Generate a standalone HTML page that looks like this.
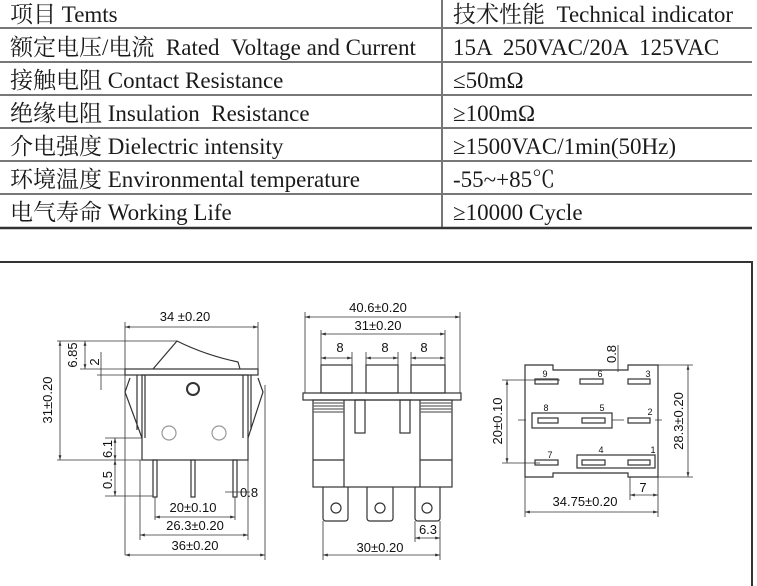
<!DOCTYPE html>
<html><head><meta charset="utf-8"><style>
html,body{margin:0;padding:0;background:#fff;}
body{width:757px;height:586px;overflow:hidden;position:relative;}
svg{position:absolute;left:0;top:0;}
.t{font-family:"Liberation Serif","Noto Serif CJK SC","Noto Sans CJK SC",serif;font-size:23px;fill:#1a1a1a;}
.d{font-family:"Liberation Sans",sans-serif;font-size:13px;fill:#111;}
</style></head><body>
<svg width="757" height="586" viewBox="0 0 757 586">
<defs><marker id="a" viewBox="0 0 10 10" refX="10" refY="5" markerWidth="6" markerHeight="6" orient="auto-start-reverse"><path d="M0,2 L10,5 L0,8z" fill="#333"/></marker></defs>
<!-- table -->
<g stroke="#777" stroke-width="2">
<line x1="0" y1="28" x2="752" y2="28"/><line x1="0" y1="62" x2="752" y2="62"/>
<line x1="0" y1="95" x2="752" y2="95"/><line x1="0" y1="128" x2="752" y2="128"/>
<line x1="0" y1="161" x2="752" y2="161"/><line x1="0" y1="194" x2="752" y2="194"/>
<line x1="442" y1="0" x2="442" y2="228"/>
</g>
<line x1="0" y1="228" x2="752" y2="228" stroke="#333" stroke-width="2.5"/>
<g class="t">
<text x="10" y="22">项目 Temts</text>
<text x="10" y="55">额定电压/电流 &#160;Rated &#160;Voltage and Current</text>
<text x="10" y="88">接触电阻 Contact Resistance</text>
<text x="10" y="121">绝缘电阻 Insulation &#160;Resistance</text>
<text x="10" y="154">介电强度 Dielectric intensity</text>
<text x="10" y="187">环境温度 Environmental temperature</text>
<text x="10" y="220">电气寿命 Working Life</text>
<text x="453" y="22">技术性能 &#160;Technical indicator</text>
<text x="453" y="55">15A &#160;250VAC/20A &#160;125VAC</text>
<text x="453" y="88">≤50mΩ</text>
<text x="453" y="121">≥100mΩ</text>
<text x="453" y="154">≥1500VAC/1min(50Hz)</text>
<text x="453" y="187">-55~+85℃</text>
<text x="453" y="220">≥10000 Cycle</text>
</g>
<!-- box -->
<path d="M0 262 H752 V586" fill="none" stroke="#333" stroke-width="2"/>
<g fill="none" stroke="#333" stroke-width="1.2">
<!-- drawing 1 -->
<path d="M153 369 L177 341 Q205 355 238 362 L240 369"/>
<rect x="125" y="369" width="133" height="6"/>
<rect x="142" y="375" width="106" height="85"/>
<path d="M137 375 V430 M145 375 V438 M130 378 L125 392 L142 438 M243 375 V438 M251 375 V430 M258 378 L263 392 L248 438"/>
<circle cx="193" cy="389" r="6" stroke-width="2"/>
<circle cx="169" cy="433" r="7" stroke="#999"/><circle cx="219" cy="433" r="7" stroke="#999"/>
<rect x="153" y="460" width="4" height="37"/><rect x="191" y="460" width="4" height="37"/><rect x="233" y="460" width="4" height="37"/>
<g stroke-width="0.8">
<path d="M125 322 V555 M258 322 V370 M265 385 V560 M57 341 H177 M57 460 H142 M80 369 H153 M97 375 H125 M105 438 H142 M105 496 H153 M155 497 V520 M235 497 V520 M140 460 V540 M248 460 V540 M225 492 H250"/>
<line x1="125" y1="327" x2="258" y2="327" marker-start="url(#a)" marker-end="url(#a)"/>
<line x1="60" y1="341" x2="60" y2="460" marker-start="url(#a)" marker-end="url(#a)"/>
<line x1="85" y1="341" x2="85" y2="369" marker-start="url(#a)" marker-end="url(#a)"/>
<line x1="101" y1="352" x2="101" y2="390"/>
<line x1="115" y1="438" x2="115" y2="460" marker-start="url(#a)" marker-end="url(#a)"/>
<line x1="115" y1="460" x2="115" y2="496" marker-start="url(#a)" marker-end="url(#a)"/>
<line x1="155" y1="517" x2="235" y2="517" marker-start="url(#a)" marker-end="url(#a)"/>
<line x1="140" y1="535" x2="248" y2="535" marker-start="url(#a)" marker-end="url(#a)"/>
<line x1="125" y1="555" x2="265" y2="555" marker-start="url(#a)" marker-end="url(#a)"/>
</g>
<!-- drawing 2 -->
<rect x="321" y="365" width="31" height="28"/><rect x="366" y="365" width="32" height="28"/><rect x="411" y="365" width="34" height="28"/>
<rect x="303" y="393" width="158" height="7"/>
<rect x="313" y="400" width="139" height="87"/>
<path d="M344 400 V487 M420 400 V487 M313 460 H344 M420 460 H452"/>
<rect x="355" y="400" width="10" height="33"/><rect x="400" y="400" width="10" height="33"/>
<path d="M313 403 H344 M313 406 H344 M313 409 H344 M313 412 H344 M420 403 H452 M420 406 H452 M420 409 H452 M420 412 H452" stroke="#666"/>
<path d="M323 487 V518 Q323 521 326 521 H345 Q348 521 348 518 V487 M367 487 V518 Q367 521 370 521 H390 Q393 521 393 518 V487 M415 487 V518 Q415 521 418 521 H437 Q440 521 440 518 V487"/>
<circle cx="336" cy="508" r="5"/><circle cx="380" cy="508" r="5"/><circle cx="427" cy="508" r="5"/>
<g stroke-width="0.8">
<path d="M305 312 V393 M460 312 V393 M321 330 V365 M445 330 V365 M352 352 V365 M366 352 V365 M398 352 V365 M411 352 V365 M323 521 V560 M440 521 V560 M415 521 V542"/>
<line x1="305" y1="317" x2="460" y2="317" marker-start="url(#a)" marker-end="url(#a)"/>
<line x1="321" y1="334" x2="445" y2="334" marker-start="url(#a)" marker-end="url(#a)"/>
<line x1="321" y1="358" x2="352" y2="358" marker-start="url(#a)" marker-end="url(#a)"/>
<line x1="366" y1="358" x2="398" y2="358" marker-start="url(#a)" marker-end="url(#a)"/>
<line x1="411" y1="358" x2="445" y2="358" marker-start="url(#a)" marker-end="url(#a)"/>
<line x1="415" y1="538" x2="440" y2="538" marker-start="url(#a)" marker-end="url(#a)"/>
<line x1="323" y1="555" x2="440" y2="555" marker-start="url(#a)" marker-end="url(#a)"/>
</g>
<!-- drawing 3 -->
<path d="M525 365 H553 V370 H628 V365 H658 V477 H628 V473 H553 V477 H525 Z"/>
<rect x="535" y="379" width="23" height="5"/><rect x="580" y="379" width="23" height="5"/><rect x="628" y="379" width="22" height="5"/>
<rect x="532" y="413" width="80" height="15"/>
<rect x="538" y="418" width="20" height="5"/><rect x="582" y="418" width="23" height="5"/><rect x="628" y="418" width="22" height="5"/>
<rect x="577" y="455" width="78" height="13"/>
<rect x="535" y="460" width="23" height="5"/><rect x="582" y="460" width="23" height="5"/><rect x="628" y="460" width="22" height="5"/>
<g stroke-width="0.8">
<path d="M502 380 H560 M502 463 H540 M658 365 H693 M658 477 H693 M525 477 V517 M658 477 V517 M630 477 V500 M518 420 H526 M612 420 H624 M655 420 H662 M618 345 V372"/>
<line x1="507" y1="380" x2="507" y2="463" marker-start="url(#a)" marker-end="url(#a)"/>
<line x1="688" y1="365" x2="688" y2="477" marker-start="url(#a)" marker-end="url(#a)"/>
<line x1="630" y1="495" x2="658" y2="495" marker-start="url(#a)" marker-end="url(#a)"/>
<line x1="525" y1="512" x2="658" y2="512" marker-start="url(#a)" marker-end="url(#a)"/>
</g>
</g>
<g class="d">
<text x="185" y="321" text-anchor="middle">34 ±0.20</text>
<text transform="translate(52,400) rotate(-90)" text-anchor="middle">31±0.20</text>
<text transform="translate(77,355) rotate(-90)" text-anchor="middle">6.85</text>
<text transform="translate(99,362) rotate(-90)" text-anchor="middle">2</text>
<text transform="translate(112,449) rotate(-90)" text-anchor="middle">6.1</text>
<text transform="translate(112,480) rotate(-90)" text-anchor="middle">0.5</text>
<text x="240" y="497">0.8</text>
<text x="193" y="512" text-anchor="middle">20±0.10</text>
<text x="195" y="530" text-anchor="middle">26.3±0.20</text>
<text x="195" y="550" text-anchor="middle">36±0.20</text>
<text x="378" y="312" text-anchor="middle">40.6±0.20</text>
<text x="378" y="330" text-anchor="middle">31±0.20</text>
<text x="340" y="352" text-anchor="middle">8</text>
<text x="385" y="352" text-anchor="middle">8</text>
<text x="424" y="352" text-anchor="middle">8</text>
<text x="428" y="534" text-anchor="middle">6.3</text>
<text x="380" y="552" text-anchor="middle">30±0.20</text>
<text transform="translate(502,421) rotate(-90)" text-anchor="middle">20±0.10</text>
<text transform="translate(683,421) rotate(-90)" text-anchor="middle">28.3±0.20</text>
<text transform="translate(616,354) rotate(-90)" text-anchor="middle">0.8</text>
<text x="643" y="492" text-anchor="middle">7</text>
<text x="585" y="506" text-anchor="middle">34.75±0.20</text>
</g>
<g class="d" style="font-size:9px">
<text x="545" y="377" text-anchor="middle">9</text><text x="600" y="377" text-anchor="middle">6</text><text x="648" y="377" text-anchor="middle">3</text>
<text x="546" y="411" text-anchor="middle">8</text><text x="602" y="411" text-anchor="middle">5</text><text x="650" y="415" text-anchor="middle">2</text>
<text x="550" y="458" text-anchor="middle">7</text><text x="601" y="453" text-anchor="middle">4</text><text x="653" y="453" text-anchor="middle">1</text>
</g>
</svg>
</body></html>
